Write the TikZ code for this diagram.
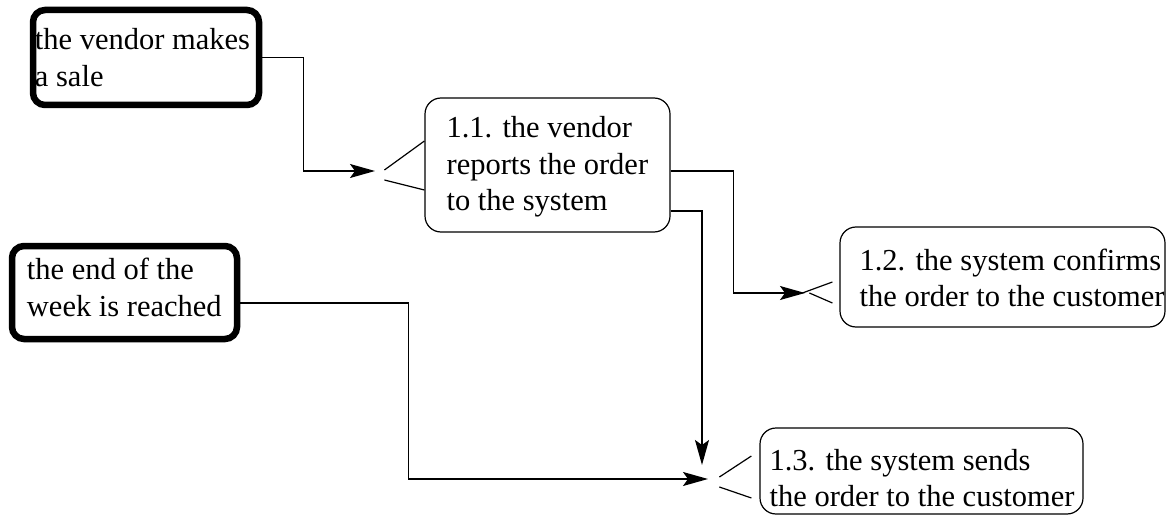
\documentclass[tikz,border=0pt]{standalone}
\usepackage{fontspec}
\newfontfamily\diagramfont{LiberationSerif-Regular.ttf}
\usetikzlibrary{arrows.meta}
\tikzset{>={Stealth[length=25pt,width=14pt,inset=5pt]}}
\tikzset{trigger/.style={draw, line width=6.5pt, rounded corners=12pt, inner sep=0pt},
    task/.style={draw, line width=1.2pt, rounded corners=16pt, inner sep=0pt},
    boxtext/.style={anchor=west, align=left, inner sep=0pt, font=\diagramfont\fontsize{30.5}{36.5}\selectfont},
    connection/.style={line width=1.4pt},
    fork/.style={line width=1.2pt}}

\begin{document}
\begin{tikzpicture}[x=1pt, y=-1pt]
        \useasboundingbox (0,0) rectangle (1171,516);

        % Events
        \node[trigger, minimum width=226pt, minimum height=95pt] (sale) at (146,57.5) {};
        \node[boxtext] (sale_text) at ([xshift=5pt]sale.west) {the vendor makes\\a sale};
        \node[trigger, minimum width=225pt, minimum height=93pt] (week) at (124.5,292.5) {};
        \node[boxtext] (week_text) at ([xshift=18pt,yshift=5pt]week.west) {the end of the\\week is reached};

        % Steps
        \node[task, minimum width=245pt, minimum height=134pt] (report) at (547.5,165) {};
        \node[boxtext] (report_text) at ([xshift=22pt,yshift=-2pt]report.west) {1.1. the vendor\\reports the order\\to the system};
        \node[task, minimum width=325pt, minimum height=100pt] (confirm) at (1002.5,277) {};
        \node[boxtext] (confirm_text) at ([xshift=20pt,yshift=-1pt]confirm.west) {1.2. the system confirms\\the order to the customer};
        \node[task, minimum width=323pt, minimum height=86pt] (send) at (921.5,471) {};
        \node[boxtext] (send_text) at ([xshift=10pt,yshift=-7pt]send.west) {1.3. the system sends\\the order to the customer};

        % Inputs
        \coordinate (in_report) at (375,171);
        \coordinate (in_confirm) at (805,293);
        \coordinate (in_send) at (708,479);
        \coordinate (in_send_top) at (702,465);

        % Forks
        \draw[fork] ([yshift=24pt]report.west) -- ++(-40,29);
        \draw[fork] ([yshift=-25pt]report.west) -- ++(-40,-10);
        \draw[fork] ([xshift=-7pt,yshift=-5pt]confirm.west) -- ++(-30,11);
        \draw[fork] ([xshift=-7pt,yshift=-26pt]confirm.west) -- ++(-23,-10);
        \draw[fork] ([xshift=-8pt,yshift=15pt]send.west) -- ++(-32,21);
        \draw[fork] ([xshift=-8pt,yshift=-27pt]send.west) -- ++(-32,-11);

        % Arrows
        \draw[connection, ->] (sale.east) -- ++(41,0) |- (in_report);
        \draw[connection, ->] ([yshift=-6pt]report.east) -- ++(63,0) |- (in_confirm);
        \draw[connection, ->] ([yshift=-46pt]report.east) -| (in_send_top);
        \draw[connection, ->] ([yshift=-10.5pt]week.east) -- ++(168,0) |- (in_send);
    \end{tikzpicture}
\end{document}
